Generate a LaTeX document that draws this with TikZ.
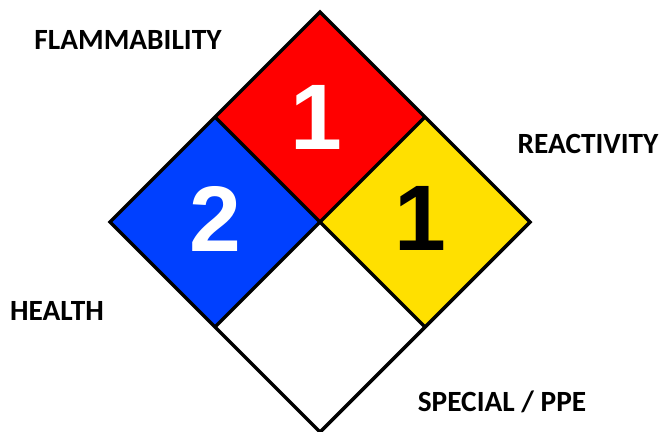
\documentclass[tikz,border=0pt]{standalone}
\usepackage{fontspec}
\setmainfont{Liberation Sans}
\newfontfamily\labelfont{Carlito}
\usetikzlibrary{calc}
\definecolor{nfpared}{RGB}{255,0,0}
\definecolor{nfpablue}{RGB}{0,64,255}
\definecolor{nfpayellow}{RGB}{255,224,0}

\begin{document}
\begin{tikzpicture}[
  hazard/.style={font=\fontsize{53}{53}\selectfont\bfseries},
  caption/.style={font=\labelfont\fontsize{16.7}{17}\selectfont\bfseries},
  edge/.style={line width=2pt,line join=miter}]
\useasboundingbox (0,0) rectangle (13.2,8.62);
\coordinate (c) at (6.4,4.18);
\coordinate (top) at (6.4,8.38);
\coordinate (left) at (2.2,4.18);
\coordinate (right) at (10.6,4.18);
\coordinate (bot) at (6.4,-0.02);
\coordinate (tl) at ($(top)!0.5!(left)$);
\coordinate (tr) at ($(top)!0.5!(right)$);
\coordinate (bl) at ($(bot)!0.5!(left)$);
\coordinate (br) at ($(bot)!0.5!(right)$);
\begin{scope}
\clip (0,0) rectangle (13.2,8.62);
\fill[nfpared] (top) -- (tr) -- (c) -- (tl) -- cycle;
\fill[nfpablue] (tl) -- (c) -- (bl) -- (left) -- cycle;
\fill[nfpayellow] (tr) -- (right) -- (br) -- (c) -- cycle;
\fill[white] (c) -- (br) -- (bot) -- (bl) -- cycle;
\draw[edge] (top) -- (right) -- (bot) -- (left) -- cycle;
\draw[edge] (tl) -- (br);
\draw[edge] (tr) -- (bl);
\end{scope}
\node[hazard,white] (fire) at (6.32,6.28) {1};
\node[hazard,white] (health) at (4.3,4.25) {2};
\node[hazard,black] (react) at (8.4,4.26) {1};
\node[caption] (lfire) at (2.56,7.82) {FLAMMABILITY};
\node[caption] (lreact) at (11.76,5.74) {REACTIVITY};
\node[caption] (lhealth) at (1.14,2.4) {HEALTH};
\node[caption] (lspec) at (10.04,0.58) {SPECIAL / PPE};
\end{tikzpicture}
\end{document}
